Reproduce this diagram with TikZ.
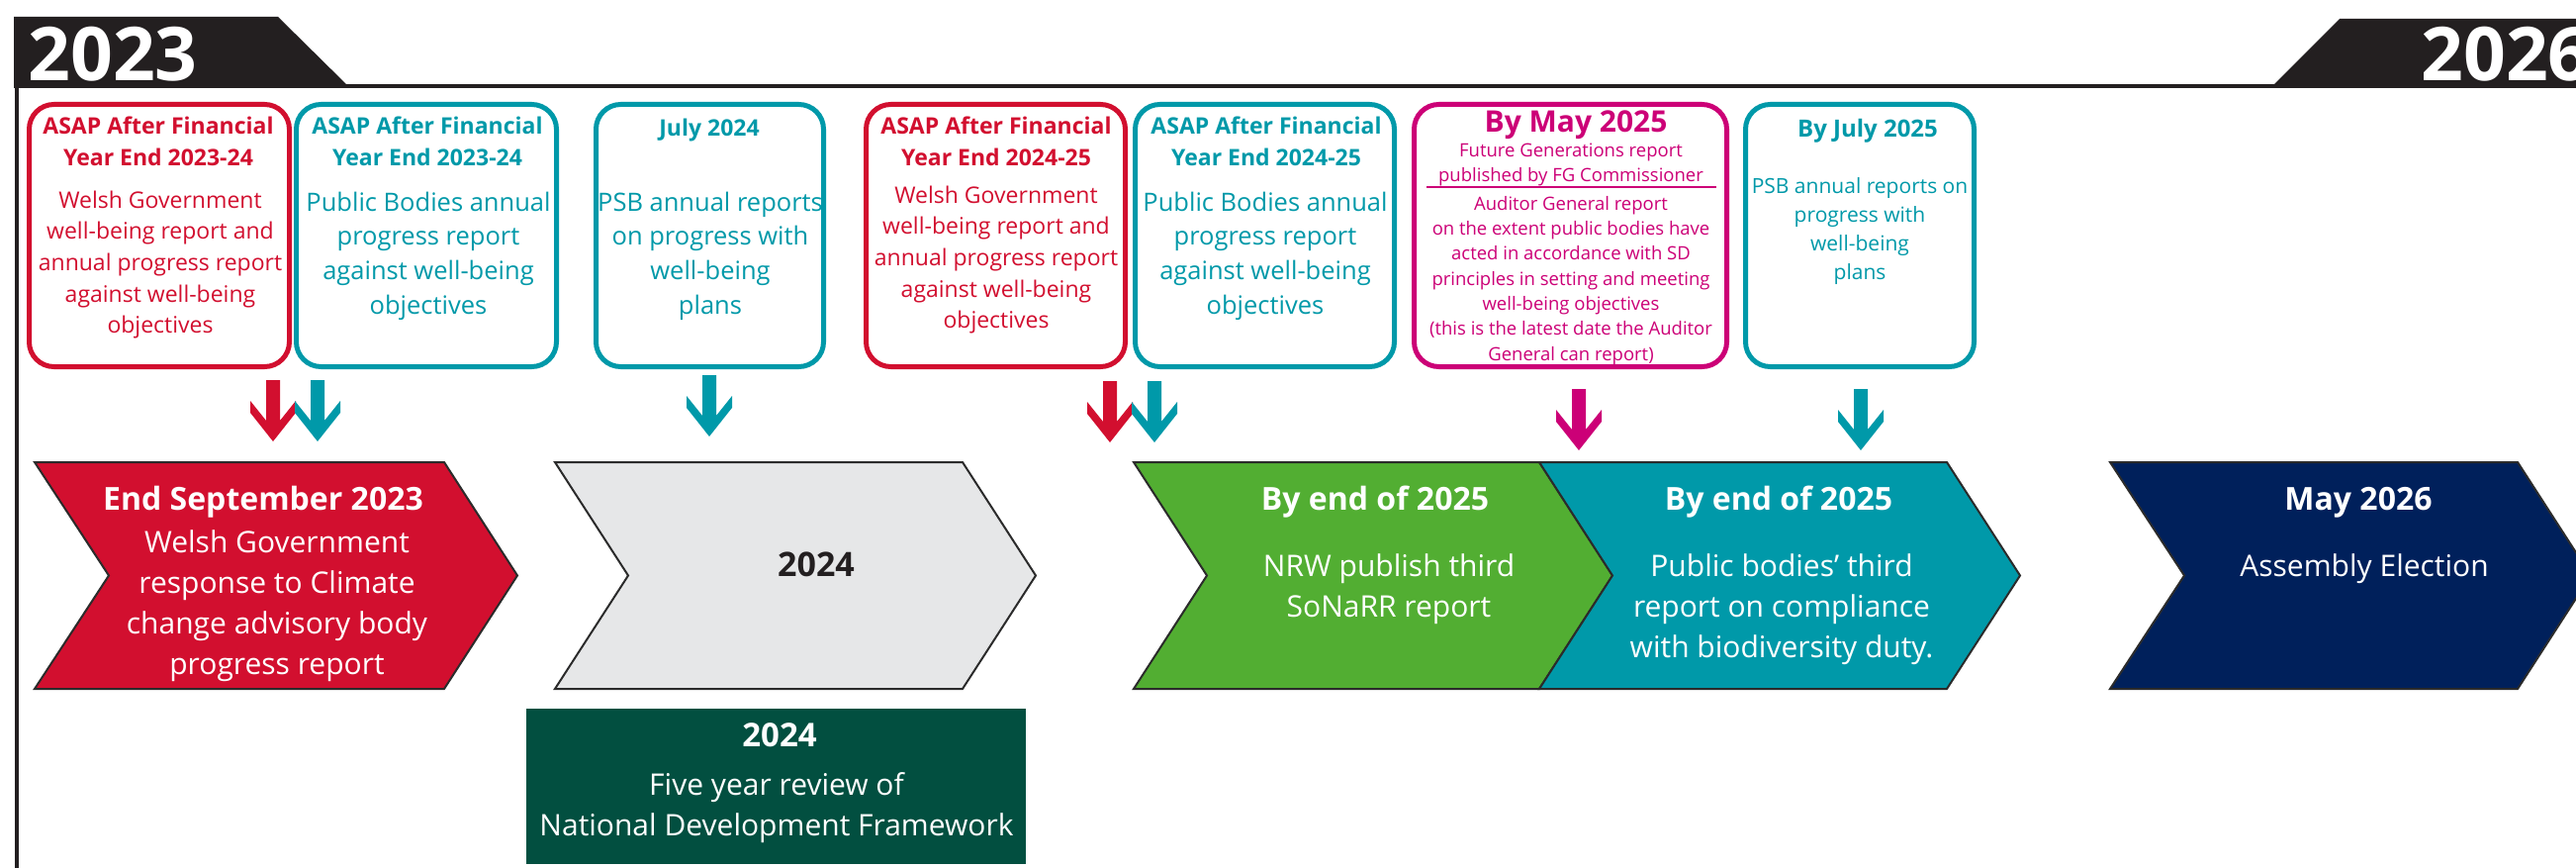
\documentclass[tikz,border=0pt]{standalone}
\usepackage{fontspec}
\setmainfont{Open Sans}
\usetikzlibrary{positioning}

\definecolor{wgred}{HTML}{D20F2F}
\definecolor{wgteal}{HTML}{0099A9}
\definecolor{fgpink}{HTML}{CC0077}
\definecolor{tabblack}{HTML}{231F20}
\definecolor{chevgrey}{HTML}{E6E7E8}
\definecolor{ndfgreen}{HTML}{024F40}
\definecolor{nrwgreen}{HTML}{52AE32}
\definecolor{navyblue}{HTML}{00205B}
\definecolor{chevedge}{HTML}{2B2B2B}

\tikzset{
  evbox/.style={draw=#1, line width=5pt, rounded corners=25pt, minimum height=265pt, inner sep=0pt},
  boxhead/.style={anchor=north, inner sep=0pt, align=center, font=\fontsize{23}{32}\selectfont\bfseries},
  boxtext/.style n args={2}{anchor=north, inner sep=0pt, align=center, font=\fontsize{#1}{#2}\selectfont},
  chevhead/.style={anchor=north, inner sep=0pt, align=center, text=white, font=\fontsize{32}{41}\selectfont\bfseries},
  chevtext/.style={anchor=north, inner sep=0pt, align=center, text=white, font=\fontsize{30}{41}\selectfont},
  chevron/.style={fill=#1, draw=chevedge, line width=2pt},
  yeartab/.style={inner sep=0pt, anchor=base, text=white, font=\fontsize{75}{75}\selectfont\bfseries},
  pics/dnarrow/.style={code={
    \fill[#1] (-7,0) -- (7,0) -- (7,41) -- (23,21) -- (23,33) -- (0,62) -- (-23,33) -- (-23,21) -- (-7,41) -- cycle;
  }}
}

\begin{document}
\begin{tikzpicture}[x=1pt, y=-1pt]
    \useasboundingbox[fill=white] (0,0) rectangle (2604,877);

    % year bar
    \fill[tabblack] (14,17) -- (281,17) -- (353,88) -- (14,88) -- cycle;
    \fill[tabblack] (2365,19) -- (2604,19) -- (2604,88) -- (2296,88) -- cycle;
    \draw[tabblack, line width=4pt] (14,87) -- (2604,87);
    \draw[tabblack, line width=4pt] (17,86) -- (17,877);
    \node[yeartab] (y2023) at (114,82) {2023};
    \node[yeartab] (y2026) at (2533,82) {2026};

    % report boxes
    \node[evbox=wgred, minimum width=263pt] (wgbox1) at (161,238) {};
    \node[boxhead, text=wgred] (wghead1) at (160,117.5) {ASAP After Financial\\Year End 2023-24};
    \node[boxtext={23}{31.7}, text=wgred] (wgtext1) at (162,192.5) {Welsh Government\\well-being report and\\annual progress report\\against well-being\\objectives};

    \node[evbox=wgteal, minimum width=263pt] (pbbox1) at (431,238) {};
    \node[boxhead, text=wgteal] (pbhead1) at (432,117.5) {ASAP After Financial\\Year End 2023-24};
    \node[boxtext={25.5}{34.7}, text=wgteal] (pbtext1) at (433,193.6) {Public Bodies annual\\progress report\\against well-being\\objectives};

    \node[evbox=wgteal, minimum width=230pt] (psbbox1) at (717.5,238) {};
    \node[boxhead, text=wgteal] (psbhead1) at (717,119.5) {July 2024};
    \node[boxtext={25.5}{34.7}, text=wgteal] (psbtext1) at (718,193.6) {PSB annual reports\\on progress with\\well-being\\plans};

    \node[evbox=wgred, minimum width=262pt] (wgbox2) at (1006.5,238) {};
    \node[boxhead, text=wgred] (wghead2) at (1007,117.5) {ASAP After Financial\\Year End 2024-25};
    \node[boxtext={23}{31.7}, text=wgred] (wgtext2) at (1007,187.5) {Welsh Government\\well-being report and\\annual progress report\\against well-being\\objectives};

    \node[evbox=wgteal, minimum width=262pt] (pbbox2) at (1278.5,238) {};
    \node[boxhead, text=wgteal] (pbhead2) at (1280,117.5) {ASAP After Financial\\Year End 2024-25};
    \node[boxtext={25.5}{34.7}, text=wgteal] (pbtext2) at (1279,193.6) {Public Bodies annual\\progress report\\against well-being\\objectives};

    \node[evbox=fgpink, minimum width=316pt] (fgbox) at (1587.5,238) {};
    \node[anchor=north, inner sep=0pt, text=fgpink, font=\fontsize{30}{30}\selectfont\bfseries] (fghead) at (1593,111.6) {By May 2025};
    \node[boxtext={18.5}{25}, text=fgpink] (fgtext) at (1588,144.5) {Future Generations report\\published by FG Commissioner};
    \coordinate (fgruleL) at (1442,189);
    \coordinate (fgruleR) at (1735,189);
    \draw[fgpink, line width=2pt] (fgruleL) -- (fgruleR);
    \node[boxtext={18.5}{25.3}, text=fgpink] (agtext) at (1588,198) {Auditor General report\\on the extent public bodies have\\acted in accordance with SD\\principles in setting and meeting\\well-being objectives\\(this is the latest date the Auditor\\General can report)};

    \node[evbox=wgteal, minimum width=231pt] (psbbox2) at (1880,238) {};
    \node[anchor=north, inner sep=0pt, text=wgteal, font=\fontsize{24}{24}\selectfont\bfseries] (psbhead2) at (1888,119.8) {By July 2025};
    \node[boxtext={21}{29}, text=wgteal] (psbtext2) at (1880,179) {PSB annual reports on\\progress with\\well-being\\plans};

    % arrows down to the timeline
    \pic at (276,384) {dnarrow=wgred};
    \pic at (321,384) {dnarrow=wgteal};
    \pic at (717,379) {dnarrow=wgteal};
    \pic at (1122,385) {dnarrow=wgred};
    \pic at (1167,385) {dnarrow=wgteal};
    \pic at (1596,393) {dnarrow=fgpink};
    \pic at (1881,393) {dnarrow=wgteal};

    % timeline chevrons
    \filldraw[chevron=wgred] (35,467) -- (449,467) -- (523,581.5) -- (449,696) -- (35,696) -- (110,581.5) -- cycle;
    \node[chevhead] (sephead) at (266,490.7) {End September 2023};
    \node[chevtext] (septext) at (280,535.2) {Welsh Government\\response to Climate\\change advisory body\\progress report};

    \filldraw[chevron=chevgrey] (561,467) -- (973,467) -- (1047,581.5) -- (973,696) -- (561,696) -- (635,581.5) -- cycle;
    \node[chevhead, text=tabblack, font=\fontsize{34}{34}\selectfont\bfseries] (y2024) at (825,557.2) {2024};

    \filldraw[chevron=nrwgreen] (1146,467) -- (1556,467) -- (1630,581.5) -- (1556,696) -- (1146,696) -- (1220,581.5) -- cycle;
    \node[chevhead] (nrwhead) at (1390,490.7) {By end of 2025};
    \node[chevtext] (nrwtext) at (1404,559.2) {NRW publish third\\SoNaRR report};

    \filldraw[chevron=wgteal] (1556,467) -- (1968,467) -- (2042,581.5) -- (1968,696) -- (1556,696) -- (1630,581.5) -- cycle;
    \node[chevhead] (bdhead) at (1798,490.7) {By end of 2025};
    \node[chevtext] (bdtext) at (1801,559.2) {Public bodies’ third\\report on compliance\\with biodiversity duty.};

    \filldraw[chevron=navyblue] (2133,467) -- (2545,467) -- (2619,581.5) -- (2545,696) -- (2133,696) -- (2208,581.5) -- cycle;
    \node[chevhead] (elhead) at (2384,492) {May 2026};
    \node[chevtext] (eltext) at (2390,559.2) {Assembly Election};

    % framework review
    \node[fill=ndfgreen, minimum width=505pt, minimum height=157pt, inner sep=0pt] (ndfbox) at (784.5,794.5) {};
    \node[chevhead, font=\fontsize{33}{33}\selectfont\bfseries] (ndfhead) at (788,730) {2024};
    \node[chevtext] (ndftext) at (785,780.2) {Five year review of\\National Development Framework};
\end{tikzpicture}
\end{document}
